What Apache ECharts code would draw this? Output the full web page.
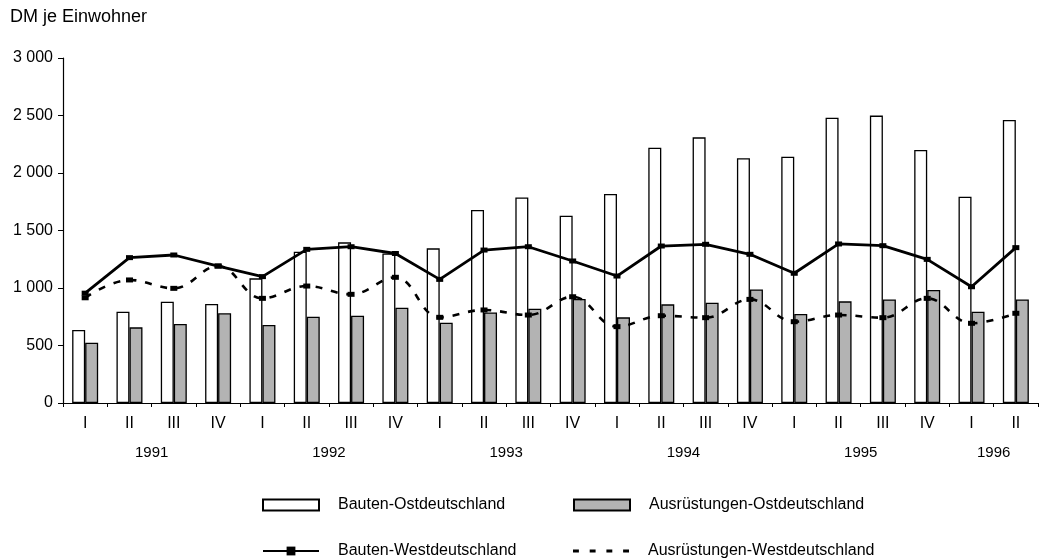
<!DOCTYPE html>
<html>
<head>
<meta charset="utf-8">
<script src="https://cdn.jsdelivr.net/npm/echarts@6/dist/echarts.min.js"></script>
<style>
  html, body { margin: 0; padding: 0; background: #fff; }
  #chart { width: 1041px; height: 559px; }
</style>
</head>
<body>
<div id="chart"></div>
<script>
const quarters = [
  'I', 'II', 'III', 'IV',
  'I', 'II', 'III', 'IV',
  'I', 'II', 'III', 'IV',
  'I', 'II', 'III', 'IV',
  'I', 'II', 'III', 'IV',
  'I', 'II',
]
const years = ['1991', '1992', '1993', '1994', '1995', '1996']
const quartersPerYear = [4, 4, 4, 4, 4, 2]

const bautenOst = [635, 794, 881, 861, 1084, 1316, 1397, 1300, 1345, 1678, 1788, 1629, 1817, 2220, 2310, 2128, 2142, 2481, 2499, 2200, 1794, 2461]
const ausruestungenOst = [524, 658, 687, 780, 678, 750, 759, 829, 698, 788, 820, 904, 745, 858, 872, 988, 774, 884, 901, 982, 794, 901]
const bautenWest = [955, 1264, 1287, 1191, 1099, 1336, 1359, 1300, 1075, 1330, 1359, 1235, 1104, 1365, 1380, 1293, 1128, 1383, 1368, 1249, 1011, 1351]
const ausruestungenWest = [915, 1070, 997, 1191, 910, 1017, 945, 1093, 745, 809, 765, 924, 664, 759, 742, 901, 707, 765, 742, 910, 693, 780]

const yTicks = [0, 500, 1000, 1500, 2000, 2500, 3000]

// year label sits in the middle of its quarters
const yearCenters = {}
let pos = 0
years.forEach((y, i) => {
  yearCenters[pos + quartersPerYear[i] / 2] = y
  pos += quartersPerYear[i]
})

const font = 'Liberation Sans, Arial, sans-serif'
const names = ['Bauten-Ostdeutschland', 'Ausrüstungen-Ostdeutschland', 'Bauten-Westdeutschland', 'Ausrüstungen-Westdeutschland']

const legendBase = {
  orient: 'horizontal',
  itemWidth: 56,
  itemHeight: 11,
  textStyle: { fontFamily: font, fontSize: 16, color: '#000', padding: [0, 0, 0, 14] },
  selectedMode: false,
}

const chart = echarts.init(document.getElementById('chart'))

chart.setOption({
  backgroundColor: '#fff',
  animation: false,
  title: {
    text: 'DM je Einwohner',
    left: 5,
    top: 3,
    textStyle: { fontFamily: font, fontSize: 18, fontWeight: 'normal', color: '#000' },
  },
  legend: [
    Object.assign({}, legendBase, { data: [{ name: names[0], icon: 'rect' }], left: 257, top: 492 }),
    Object.assign({}, legendBase, { data: [{ name: names[1], icon: 'rect' }], left: 568, top: 492 }),
    Object.assign({}, legendBase, { data: [names[2]], left: 257, top: 538 }),
    Object.assign({}, legendBase, {
      data: [{ name: names[3], icon: 'path://M0,0h6v3h-6z M17,0h6v3h-6z M34,0h6v3h-6z M51,0h6v3h-6z' }],
      itemHeight: 3,
      left: 568,
      top: 538,
    }),
  ],
  grid: {
    left: 63,
    right: -2,
    top: 58,
    bottom: 156,
    containLabel: false,
  },
  xAxis: [
    {
      type: 'category',
      data: quarters,
      boundaryGap: true,
      axisLine: { lineStyle: { color: '#000', width: 1.2 } },
      axisTick: { show: true, length: 4, lineStyle: { color: '#000' } },
      axisLabel: { fontFamily: font, fontSize: 16, color: '#000', margin: 13 },
    },
    {
      type: 'value',
      position: 'bottom',
      min: 0,
      max: quarters.length,
      interval: 1,
      axisLine: { show: false },
      axisTick: { show: false },
      splitLine: { show: false },
      axisPointer: { show: false },
      axisLabel: {
        fontFamily: font,
        fontSize: 15,
        color: '#000',
        margin: 42,
        showMinLabel: true,
        showMaxLabel: true,
        formatter: (v) => yearCenters[v] || '',
      },
    },
  ],
  yAxis: {
    type: 'value',
    min: yTicks[0],
    max: yTicks[yTicks.length - 1],
    interval: 500,
    axisLine: { show: true, lineStyle: { color: '#000', width: 1.2 } },
    axisTick: { show: true, length: 5, lineStyle: { color: '#000' } },
    splitLine: { show: false },
    axisLabel: {
      fontFamily: font,
      fontSize: 16,
      color: '#000',
      margin: 10,
      formatter: (v) => String(v).replace(/\B(?=(\d{3})+(?!\d))/g, ' '),
    },
  },
  series: [
    {
      name: names[0],
      type: 'bar',
      data: bautenOst,
      barWidth: 13,
      barGap: '0%',
      itemStyle: { color: '#fff', borderColor: '#000', borderWidth: 1.3 },
      z: 1,
    },
    {
      name: names[1],
      type: 'bar',
      data: ausruestungenOst,
      barWidth: 13,
      barGap: '0%',
      itemStyle: { color: '#b3b3b3', borderColor: '#000', borderWidth: 1.3 },
      z: 1,
    },
    {
      name: names[2],
      type: 'line',
      data: bautenWest,
      symbol: 'rect',
      symbolSize: [7, 5],
      itemStyle: { color: '#000' },
      lineStyle: { color: '#000', width: 2.8 },
      z: 5,
    },
    {
      name: names[3],
      type: 'line',
      data: ausruestungenWest,
      smooth: 0.4,
      symbol: 'rect',
      symbolSize: [7, 5],
      itemStyle: { color: '#000' },
      lineStyle: { color: '#000', width: 2.6, type: [7, 9] },
      z: 5,
    },
  ],
})
</script>
</body>
</html>
